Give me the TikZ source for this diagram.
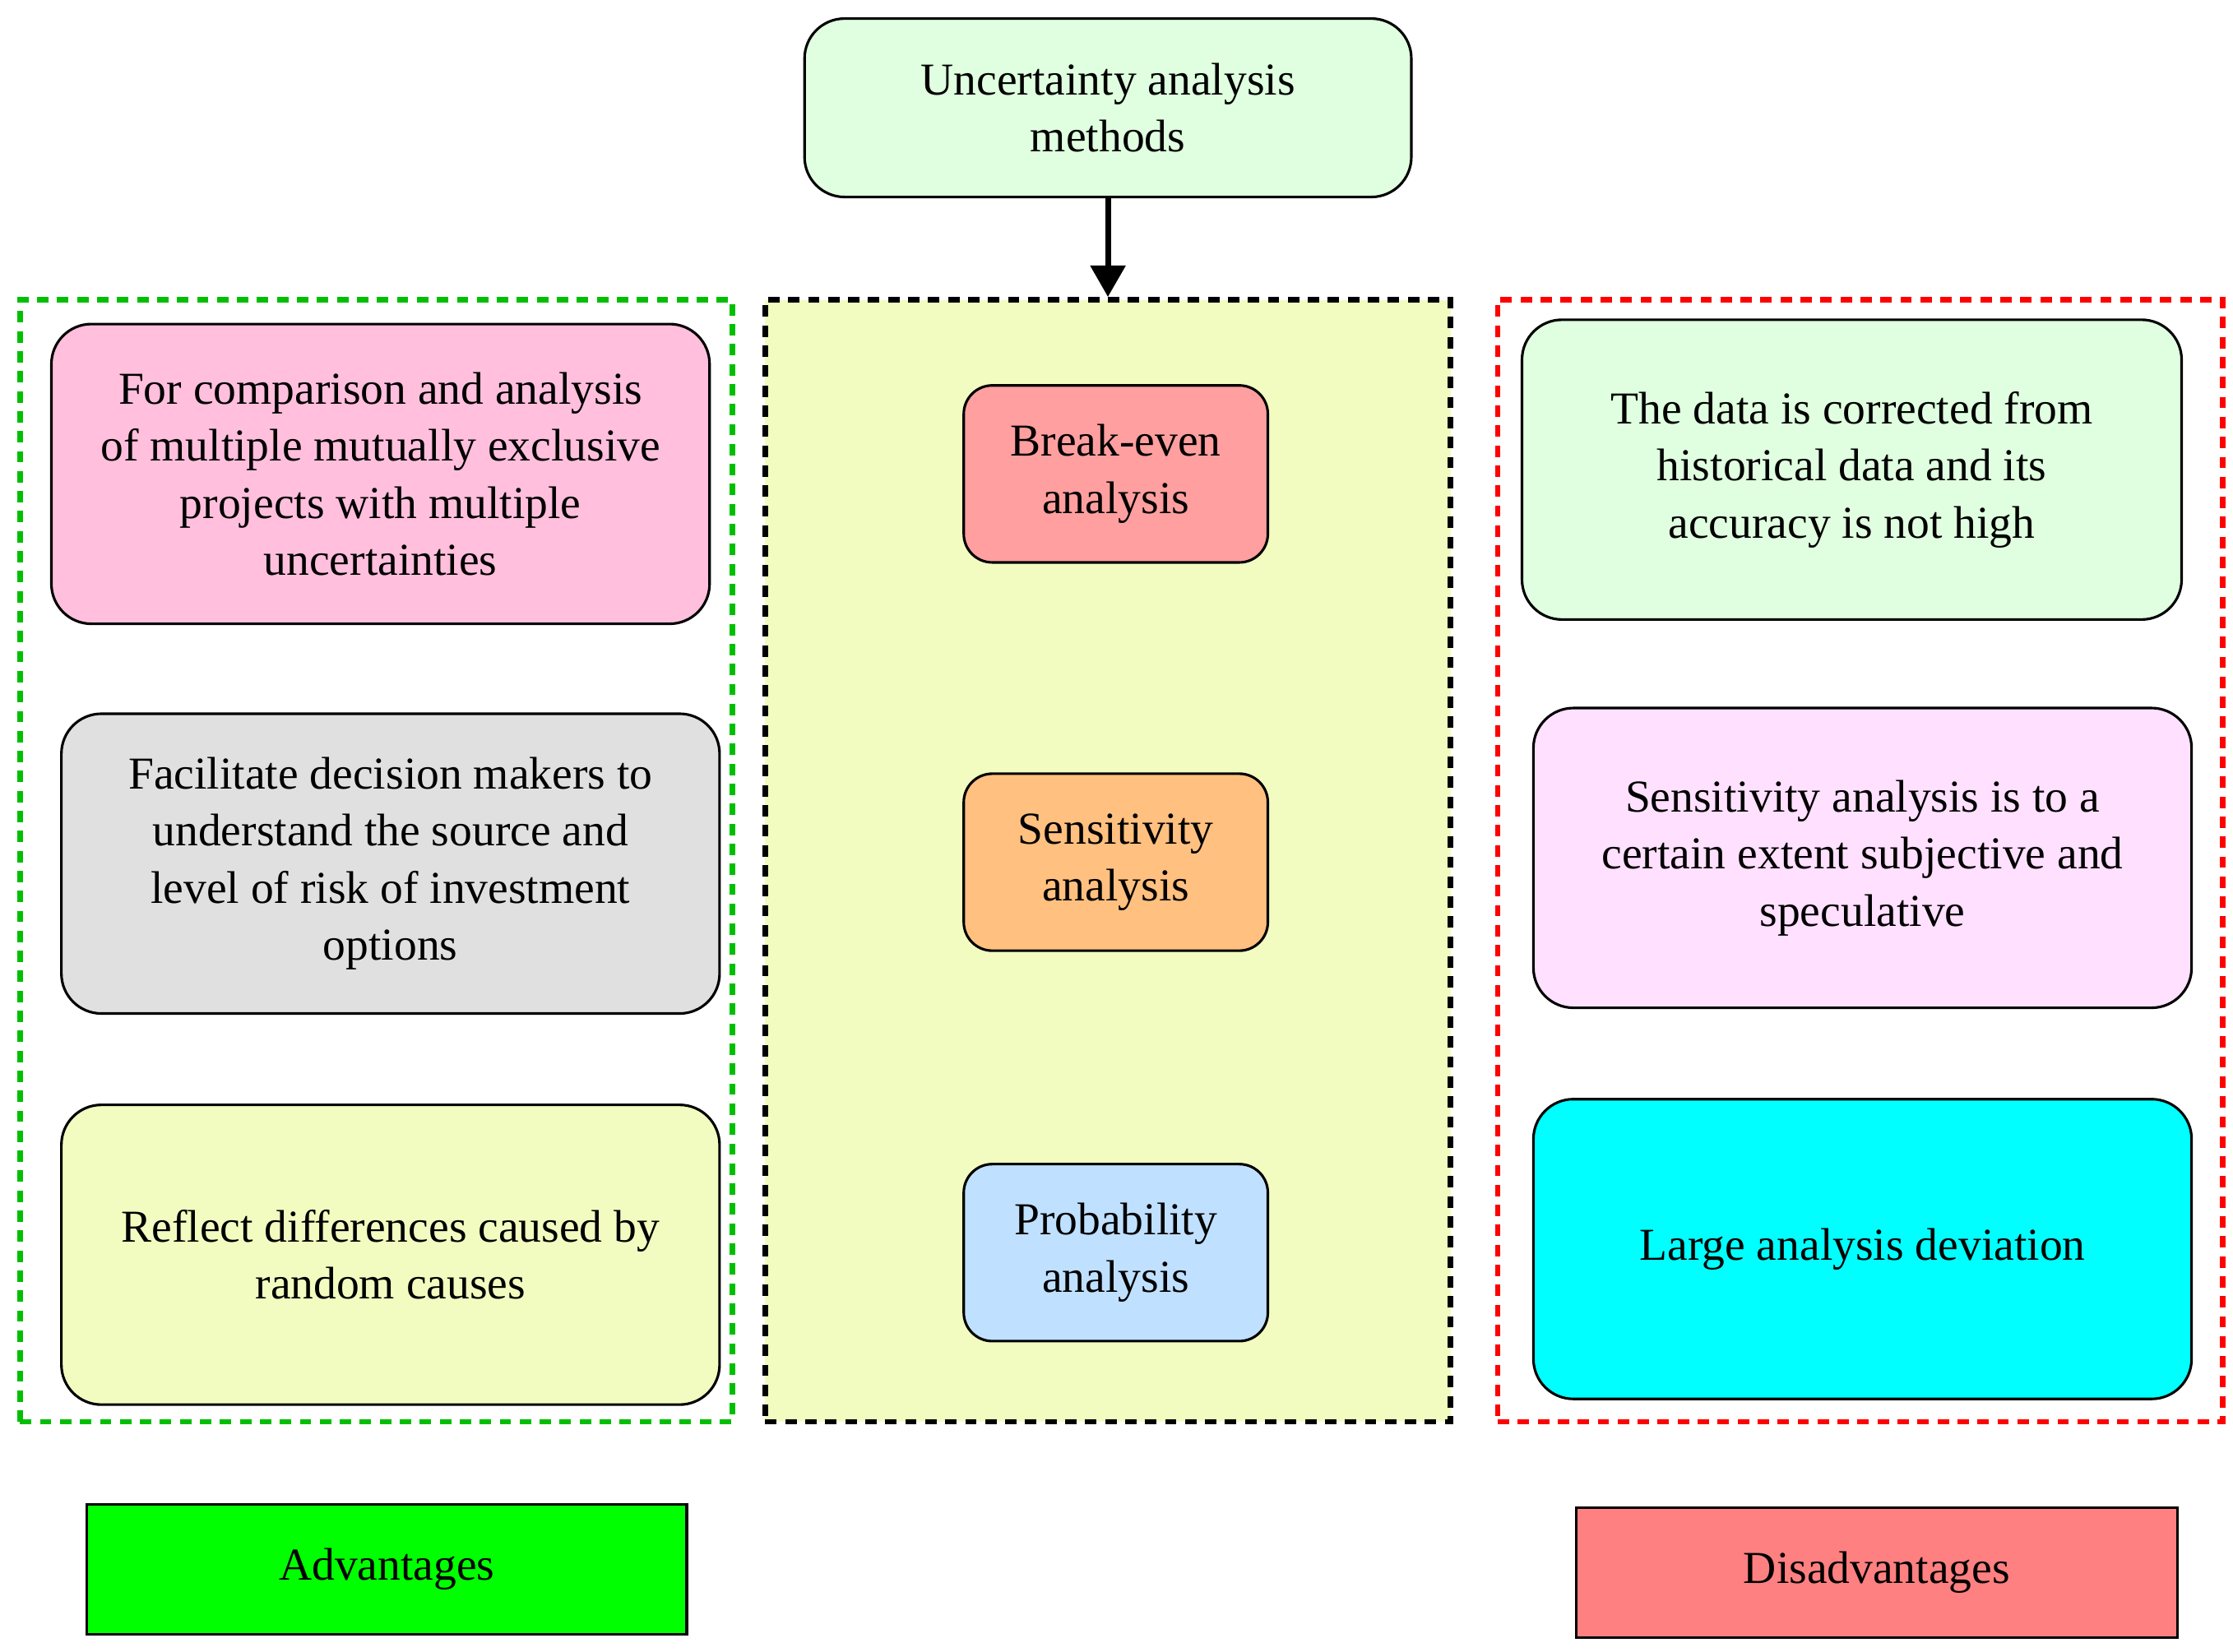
\documentclass[tikz,border=0pt]{standalone}
\usepackage{fontspec}
\setmainfont{Liberation Serif}
\usetikzlibrary{arrows.meta}
\begin{document}
\begin{tikzpicture}[x=1pt,y=-1pt,
  box/.style={draw,line width=1.8pt,rounded corners=28pt,align=center,font=\fontsize{32}{40}\selectfont,inner sep=0pt},
  frame/.style={line width=4pt,dash pattern=on 8pt off 6pt},
  lab/.style={draw,line width=1.8pt,font=\fontsize{32}{40}\selectfont,inner sep=0pt}]
\useasboundingbox (0,0) rectangle (1564,1157);
\definecolor{yel}{HTML}{F3FCC0}
\node[frame,draw=green!75!black,minimum width=499pt,minimum height=786pt] (fl) at (263.5,603) {};
\node[frame,draw=black,fill=yel,minimum width=480pt,minimum height=786pt] (fc) at (776,603) {};
\node[frame,draw=red,minimum width=508pt,minimum height=786pt] (fr) at (1303,603) {};
\node[box,fill={rgb,255:red,224;green,255;blue,224},minimum width=425pt,minimum height=125pt] (top) at (776,75.5) {Uncertainty analysis\\methods};
\draw[line width=4pt,-{Triangle[length=22pt,width=24pt]}] (top.south) -- (fc.north);
\node[box,fill={rgb,255:red,255;green,191;blue,221},minimum width=461pt,minimum height=210pt] (l1) at (266.5,332) {For comparison and analysis\\of multiple mutually exclusive\\projects with multiple\\uncertainties};
\node[box,fill={rgb,255:red,224;green,224;blue,224},minimum width=461pt,minimum height=210pt] (l2) at (273.5,605) {Facilitate decision makers to\\understand the source and\\level of risk of investment\\options};
\node[box,fill=yel,minimum width=461pt,minimum height=210pt] (l3) at (273.5,879) {Reflect differences caused by\\random causes};
\node[box,rounded corners=20pt,fill={rgb,255:red,255;green,159;blue,159},minimum width=213pt,minimum height=124pt] (c1) at (781.5,332) {Break-even\\analysis};
\node[box,rounded corners=20pt,fill={rgb,255:red,255;green,192;blue,128},minimum width=213pt,minimum height=124pt] (c2) at (781.5,604) {Sensitivity\\analysis};
\node[box,rounded corners=20pt,fill={rgb,255:red,192;green,224;blue,255},minimum width=213pt,minimum height=124pt] (c3) at (781.5,877.5) {Probability\\analysis};
\node[box,fill={rgb,255:red,224;green,255;blue,224},minimum width=462pt,minimum height=210pt] (r1) at (1297,329) {The data is corrected from\\historical data and its\\accuracy is not high};
\node[box,fill={rgb,255:red,255;green,224;blue,255},minimum width=461pt,minimum height=210pt] (r2) at (1304.5,601) {Sensitivity analysis is to a\\certain extent subjective and\\speculative};
\node[box,fill={rgb,255:red,0;green,255;blue,255},minimum width=461pt,minimum height=210pt] (r3) at (1304.5,875) {Large analysis deviation};
\node[lab,fill={rgb,255:red,0;green,255;blue,0},minimum width=420pt,minimum height=91pt] (adv) at (271,1099.5) {Advantages};
\node[lab,fill={rgb,255:red,255;green,128;blue,128},minimum width=421pt,minimum height=91pt] (dis) at (1314.5,1101.5) {Disadvantages};
\end{tikzpicture}
\end{document}
